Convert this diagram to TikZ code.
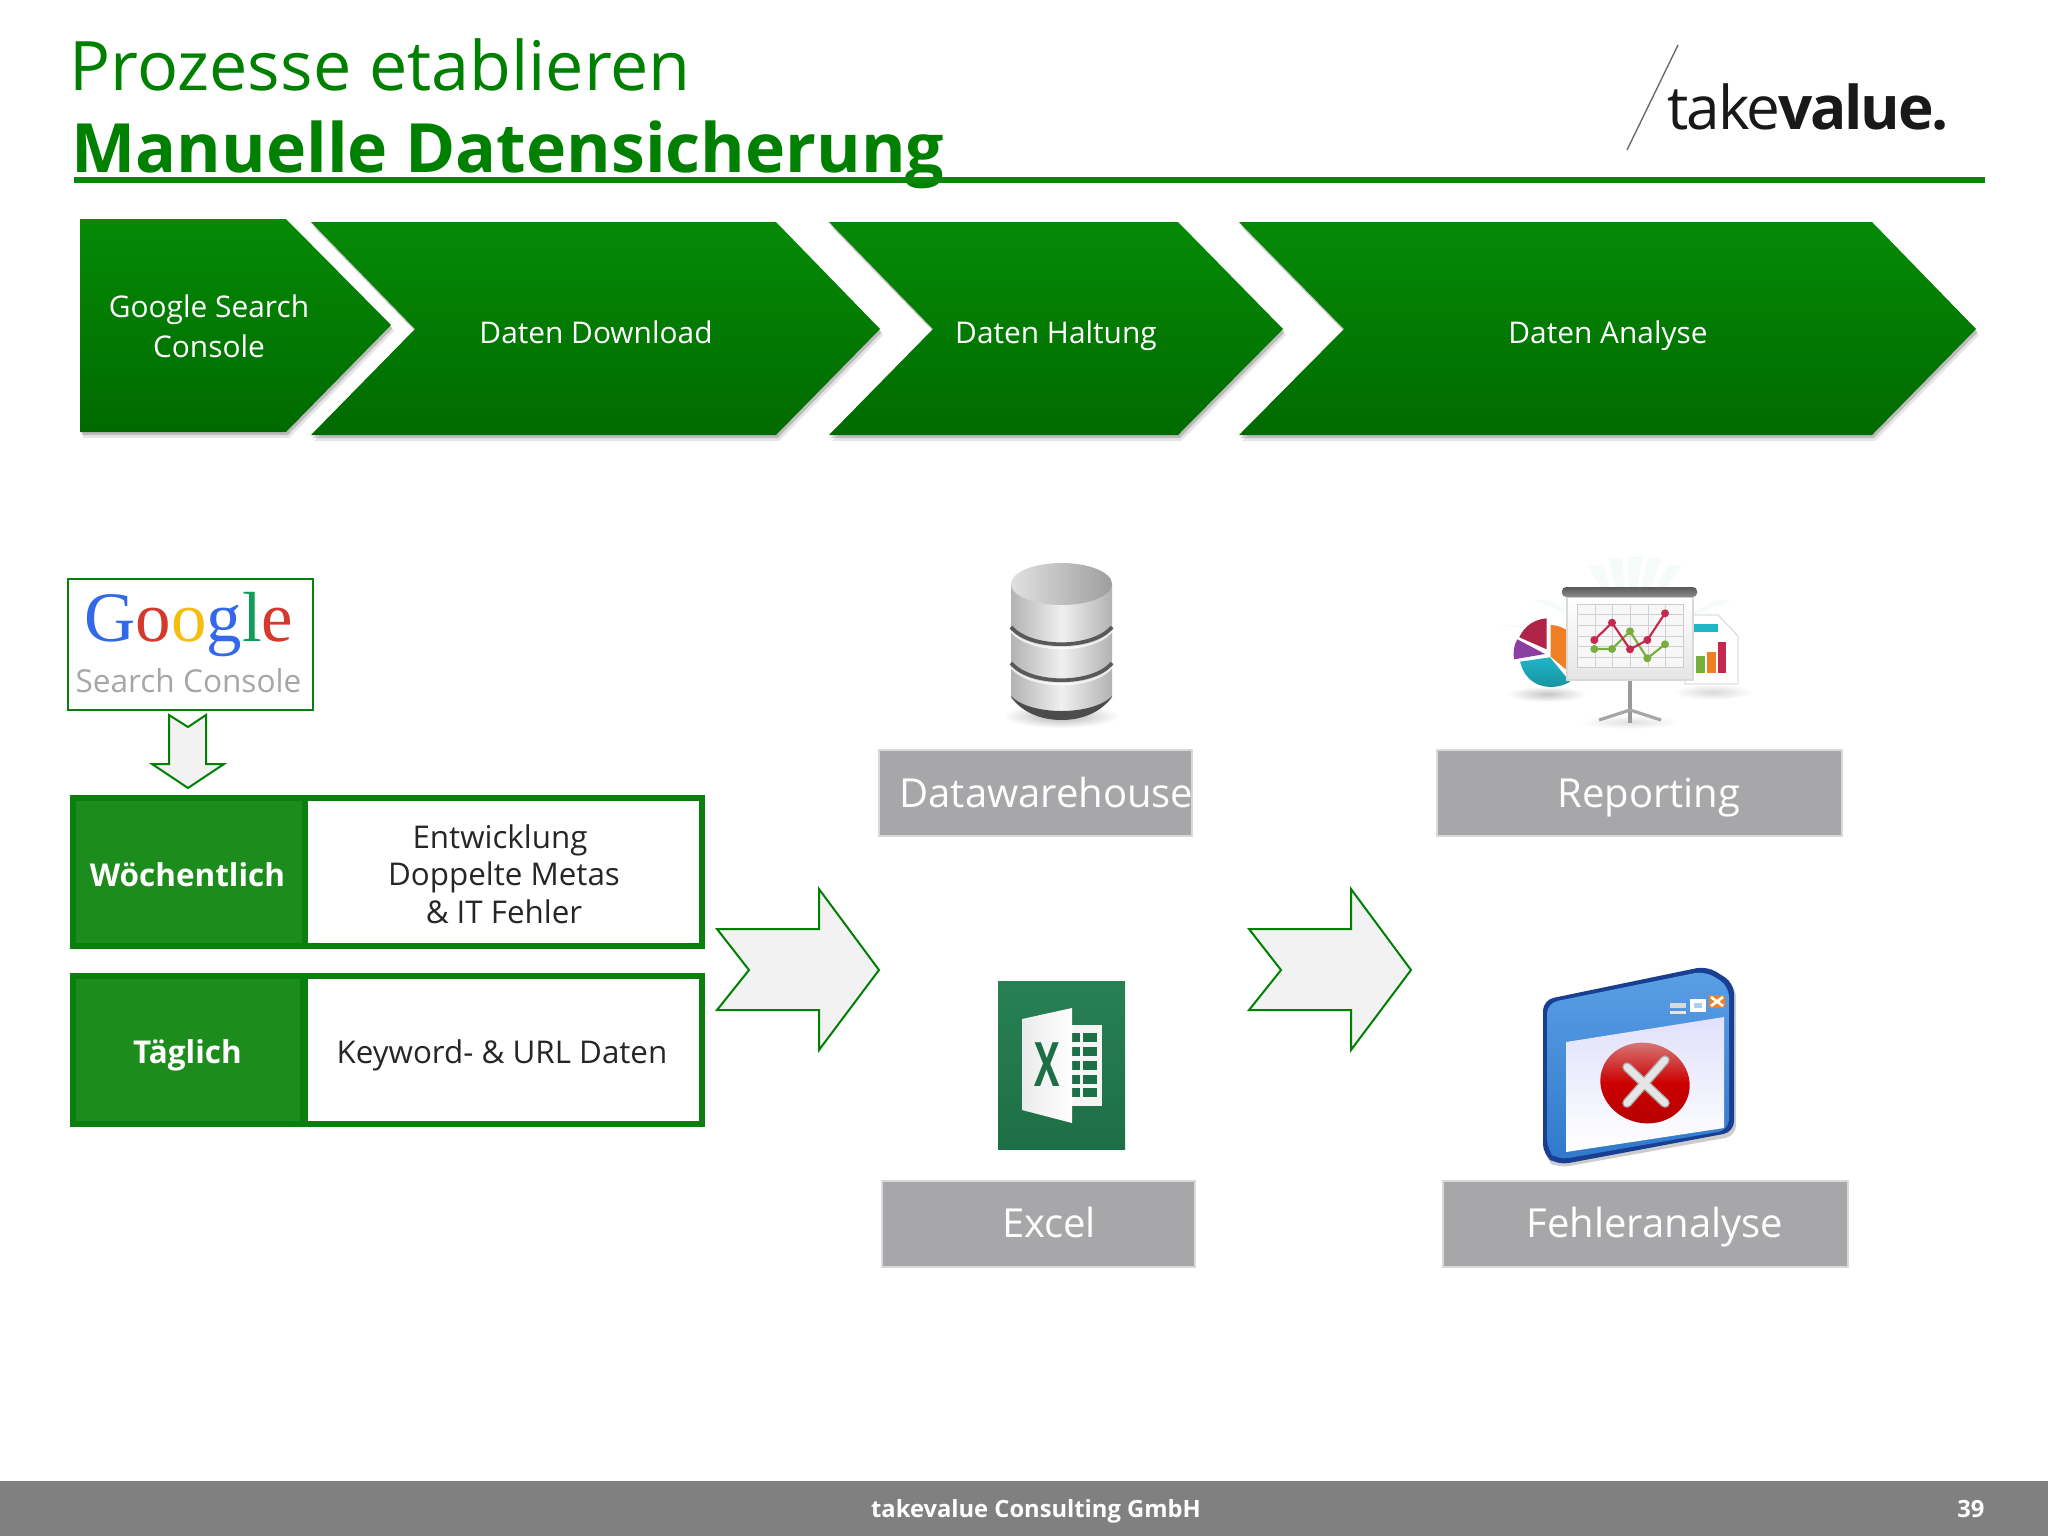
\documentclass[tikz,border=0pt]{standalone}
\usepackage{fontspec}
\setmainfont{Open Sans}
\newfontfamily\logoserif{Liberation Serif}
\newfontfamily\logofont[LetterSpace=-3.5]{Open Sans}
\usetikzlibrary{shadows}
\definecolor{tvgreen}{HTML}{008000}
\definecolor{tvrule}{HTML}{0A860A}
\definecolor{tvdark}{HTML}{1C8C1C}
\definecolor{tvborder}{HTML}{0B7F0B}
\definecolor{tvtop}{HTML}{058A05}
\definecolor{tvbottom}{HTML}{006A00}
\definecolor{tvgrey}{HTML}{A7A6A9}
\definecolor{tvarrow}{HTML}{F2F2F2}
\definecolor{xltop}{HTML}{288054}
\definecolor{xlgreen}{HTML}{1D6F45}
\definecolor{chartred}{HTML}{C4284F}
\definecolor{chartgreen}{HTML}{7AAE3C}
\definecolor{chartorange}{HTML}{EE7F22}
\definecolor{chartpurple}{HTML}{8B3FA0}
\definecolor{chartteal}{HTML}{1FB4C6}
\definecolor{winnavy}{HTML}{183F92}
\definecolor{wintop}{HTML}{5A9EE4}
\definecolor{winbottom}{HTML}{3079CB}
\tikzset{
  chevron/.style={top color=tvtop,bottom color=tvbottom,draw=none,
    general shadow={shadow xshift=1.2pt,shadow yshift=-2.2pt,opacity=.1,fill=black},
    general shadow={shadow xshift=.6pt,shadow yshift=-1.2pt,opacity=.18,fill=black}},
  chevrontext/.style={text=white,align=center,font=\fontsize{11.2}{14.9}\selectfont},
  chevronbase/.style={chevrontext,anchor=base},
  bigarrow/.style={draw=tvgreen,fill=tvarrow,line width=.75pt,line join=miter},
  greybox/.style={fill=tvgrey,draw=black!15,line width=1pt},
  greytext/.style={text=white,anchor=base,font=\fontsize{15}{18}\selectfont},
  framebox/.style={fill=white,draw=tvborder,line width=2pt},
  darkbox/.style={fill=tvdark,draw=tvborder,line width=2pt},
  boxhead/.style={text=white,anchor=base,font=\bfseries\fontsize{11.8}{15}\selectfont},
  boxtext/.style={text=black!85,align=center,font=\fontsize{11.75}{14.1}\selectfont},
}
\begin{document}
\begin{tikzpicture}[x=.375pt,y=-.375pt,inner sep=0pt]
\useasboundingbox (0,0) rectangle (2048,1536);

% title
\node[anchor=base west,text=tvgreen,font=\fontsize{25.6}{30}\selectfont] (title) at (69,90) {Prozesse etablieren};
\node[anchor=base west,text=tvgreen,font=\bfseries\fontsize{25.5}{30}\selectfont] (subtitle) at (71,172) {Manuelle Datensicherung};
\draw[tvrule,line width=1.9pt] (74,180) -- (1985,180);

% logo
\draw[black!60,line width=.5pt] (1678,45) -- (1627,150);
\node[anchor=base west,text=black!90,font=\logofont\fontsize{22.6}{26}\selectfont] (logo) at (1667,129) {take\textbf{value.}};

% chevrons
\path[chevron] (80,219) -- (286,219) -- (391,325) -- (286,432) -- (80,432) -- cycle;
\path[chevron] (311,222) -- (776,222) -- (880,329) -- (776,435) -- (311,435) -- (415,329) -- cycle;
\path[chevron] (829,222) -- (1178,222) -- (1283,329) -- (1178,435) -- (829,435) -- (933,329) -- cycle;
\path[chevron] (1239,222) -- (1872,222) -- (1976,329) -- (1872,435) -- (1239,435) -- (1344,329) -- cycle;
\node[chevrontext] (gsc) at (209,326) {Google Search\\Console};
\node[chevronbase] (download) at (596,343) {Daten Download};
\node[chevronbase] (haltung) at (1056,343) {Daten Haltung};
\node[chevronbase] (analyse) at (1608,343) {Daten Analyse};

% google box
\draw[fill=white,draw=tvborder,line width=.8pt] (68,579) rectangle (313,710);
\node[anchor=base west,font=\logoserif\fontsize{26.6}{28}\selectfont] (google) at (84,641)
  {\textcolor[HTML]{3369E8}{G}\textcolor[HTML]{D5392B}{o}\textcolor[HTML]{F5BE0F}{o}\textcolor[HTML]{3369E8}{g}\textcolor[HTML]{109D59}{l}\textcolor[HTML]{D5392B}{e}};
\node[anchor=base west,text=black!35,font=\fontsize{11.85}{14}\selectfont] (console) at (75,692) {Search Console};
\draw[bigarrow] (169,715) -- (188,727) -- (206,715) -- (206,764) -- (224,764) -- (188,788) -- (152,764) -- (169,764) -- cycle;

% frequency boxes
\draw[framebox] (305,798) rectangle (702,946);
\draw[darkbox] (73,798) rectangle (305,946);
\draw[framebox] (305,976) rectangle (702,1124);
\draw[darkbox] (73,976) rectangle (303,1124);
\node[boxhead] (weekly) at (187.5,886) {Wöchentlich};
\node[boxhead] (daily) at (187.5,1063) {Täglich};
\node[boxtext] (weeklytext) at (504,874) {Entwicklung\hspace*{3pt}\\Doppelte Metas\\\& IT Fehler};
\node[boxtext,anchor=base] (dailytext) at (502,1063) {Keyword- \& URL Daten};

% big arrows
\draw[bigarrow] (717,929) -- (819,929) -- (819,889) -- (879,970) -- (819,1050) -- (819,1010) -- (717,1010) -- (749,970) -- cycle;
\draw[bigarrow] (1249,929) -- (1351,929) -- (1351,889) -- (1411,970) -- (1351,1050) -- (1351,1010) -- (1249,1010) -- (1281,970) -- cycle;

% grey labels
\draw[greybox] (879,750) rectangle (1192,836);
\draw[greybox] (1437,750) rectangle (1842,836);
\draw[greybox] (882,1181) rectangle (1195,1267);
\draw[greybox] (1443,1181) rectangle (1848,1267);
\node[greytext,anchor=base west] (dwh) at (899,807) {Datawarehouse};
\node[greytext] (reporting) at (1649,807) {Reporting};
\node[greytext] (excel) at (1049,1237) {Excel};
\node[greytext] (fehler) at (1655,1237) {Fehleranalyse};

% database
\path[inner color=black!30,outer color=white] (1061,716) ellipse [x radius=58,y radius=12];
\path[left color=black!30,right color=black!30,middle color=black!6] (1011,584) -- (1011,698) .. controls (1030,723) and (1093,723) .. (1112,698) -- (1112,584) -- cycle;
\fill[black!70] (1011,696) .. controls (1030,728) and (1093,728) .. (1112,696) .. controls (1093,716) and (1030,716) .. (1011,696) -- cycle;
\draw[white,line width=.8pt,opacity=.7] (1011,631) .. controls (1030,654) and (1093,654) .. (1112,631);
\draw[white,line width=.8pt,opacity=.7] (1011,667) .. controls (1030,690) and (1093,690) .. (1112,667);
\draw[black!65,line width=1.4pt] (1011,627) .. controls (1030,650) and (1093,650) .. (1112,627);
\draw[black!65,line width=1.4pt] (1011,663) .. controls (1030,686) and (1093,686) .. (1112,663);
\path[left color=black!12,right color=black!38] (1061.5,584) ellipse [x radius=50.5,y radius=21];

% excel
\path[top color=xltop,bottom color=xlgreen] (998,981) rectangle (1125,1149);
\fill[black!4] (1060,1025) rectangle (1102,1106);
\foreach \rowy in {1033,1047,1061,1075,1088}{
  \fill[xlgreen] (1072,\rowy) rectangle (1080,\rowy+9);
  \fill[xlgreen] (1083,\rowy) rectangle (1097,\rowy+9);
}
\path[left color=black!8,right color=white] (1022,1019) -- (1072,1008) -- (1072,1123) -- (1022,1110) -- cycle;
\node[text=xlgreen,font=\bfseries\fontsize{23}{26}\selectfont] (xlmark) at (1047,1065) {\scalebox{.62}[1]{X}};

% report
\foreach \rayx/\rayy in {1595/565,1615/558,1635/556,1655/558,1675/565,1540/600,1725/600,1765/640,1505/625}{
  \fill[teal!4] (1630,640) -- (\rayx-7,\rayy) -- (\rayx+7,\rayy) -- cycle;
}
\path[inner color=black!22,outer color=white] (1547,694) ellipse [x radius=40,y radius=8];
\path[inner color=black!15,outer color=white] (1713,692) ellipse [x radius=40,y radius=8];
\path[inner color=black!12,outer color=white] (1630,722) ellipse [x radius=50,y radius=7];
\fill[chartorange] (1550.7,625) .. controls (1556,625) and (1562,627) .. (1566.7,630) -- (1566.7,670) -- (1550.7,656.7) -- cycle;
\fill[chartred!90!black] (1546.7,618.3) -- (1546.7,649.3) -- (1519.3,637.3) .. controls (1524,626) and (1535,619) .. (1546.7,618.3) -- cycle;
\fill[chartpurple] (1545,654) -- (1514,659.3) .. controls (1513,651) and (1514,645) .. (1517.3,639.3) -- cycle;
\path[top color=chartteal,bottom color=chartteal!80!black] (1550,657.3) -- (1570,681.7) .. controls (1555,691) and (1527,690) .. (1520,661.7) -- cycle;
\draw[black!12,fill=white,line width=.5pt] (1685,615) -- (1718,615) -- (1738,636) -- (1738,684) -- (1685,684) -- cycle;
\fill[chartteal] (1693,624) rectangle (1718,632);
\fill[chartgreen] (1696,656) rectangle (1705,673);
\fill[chartorange] (1707,652) rectangle (1716,673);
\fill[chartred] (1718,642) rectangle (1726,673);
\draw[black!40,line width=1.6pt] (1630,680) -- (1630,723);
\draw[black!35,line width=1.2pt] (1599,720) -- (1630,710) -- (1661,720);
\path[top color=white,bottom color=black!10,draw=black!15,line width=.4pt] (1567,597) rectangle (1693,680);
\draw[black!20,line width=.3pt,fill=black!3] (1577,604) rectangle (1683,667);
\foreach \gridx in {1595,1612,1630,1648,1665}{\draw[black!18,line width=.3pt] (\gridx,604) -- (\gridx,667);}
\foreach \gridy in {614,625,636,646,657}{\draw[black!18,line width=.3pt] (1577,\gridy) -- (1683,\gridy);}
\path[top color=black!65,bottom color=black!45,rounded corners=1.5pt] (1562,587) rectangle (1697,597);
\draw[chartgreen,line width=.8pt] (1594.3,649) -- (1612,649) -- (1630,631.3) -- (1647.3,658.3) -- (1665,644.3);
\draw[chartred,line width=.8pt] (1594.3,640) -- (1612,622.7) -- (1630,649.3) -- (1647.3,640) -- (1665,613.3);
\foreach \ptx/\pty in {1594.3/649,1612/649,1630/631.3,1647.3/658.3,1665/644.3}{\fill[chartgreen] (\ptx,\pty) circle [radius=4];}
\foreach \ptx/\pty in {1594.3/640,1612/622.7,1630/649.3,1647.3/640,1665/613.3}{\fill[chartred] (\ptx,\pty) circle [radius=4];}

% error window
\path[fill=black!20,rounded corners=4pt] (1545,1004) -- (1709,971) -- (1736,986) -- (1736,1136) -- (1558,1168) -- (1545,1160) -- cycle;
\path[fill=winnavy,rounded corners=4pt] (1543,1000) -- (1707,966) -- (1734,983) -- (1734,1132) -- (1558,1165) -- (1543,1155) -- cycle;
\path[top color=wintop,bottom color=winbottom,rounded corners=4pt] (1547,1003) -- (1705,971) -- (1729,986) -- (1729,1130) -- (1557,1160) -- (1547,1150) -- cycle;
\path[top color=black!12!blue!12,bottom color=white] (1566,1042) -- (1724,1017) -- (1724,1128) -- (1566,1152) -- cycle;
\fill[black!10] (1670,1011) rectangle (1686,1014);
\fill[black!15] (1670,1003) rectangle (1686,1008);
\draw[white,line width=1.2pt,fill=wintop!50] (1692,1001) rectangle (1704,1010);
\fill[chartorange] (1709,995) rectangle (1725,1008);
\draw[white,line width=1pt] (1711,997) -- (1723,1006) (1723,997) -- (1711,1006);
\path[top color=red!40!white!85!black,bottom color=red!70!black,middle color=red!80!black,rotate around={-15:(1645,1083)}] (1645,1083) ellipse [x radius=45,y radius=40];
\draw[black!35,line width=3.6pt,line cap=round] (1627,1067) -- (1665,1103) (1665,1060) -- (1627,1103);
\draw[white!90!black,line width=2.6pt,line cap=round] (1627,1067) -- (1665,1103) (1665,1060) -- (1627,1103);

% footer
\fill[black!50] (0,1481) rectangle (2048,1536);
\node[anchor=base,text=white,font=\bfseries\fontsize{8.9}{12}\selectfont] (company) at (1036,1517) {takevalue Consulting GmbH};
\node[anchor=base east,text=white,font=\bfseries\fontsize{8.9}{12}\selectfont] (pageno) at (1985,1517) {39};
\end{tikzpicture}
\end{document}
